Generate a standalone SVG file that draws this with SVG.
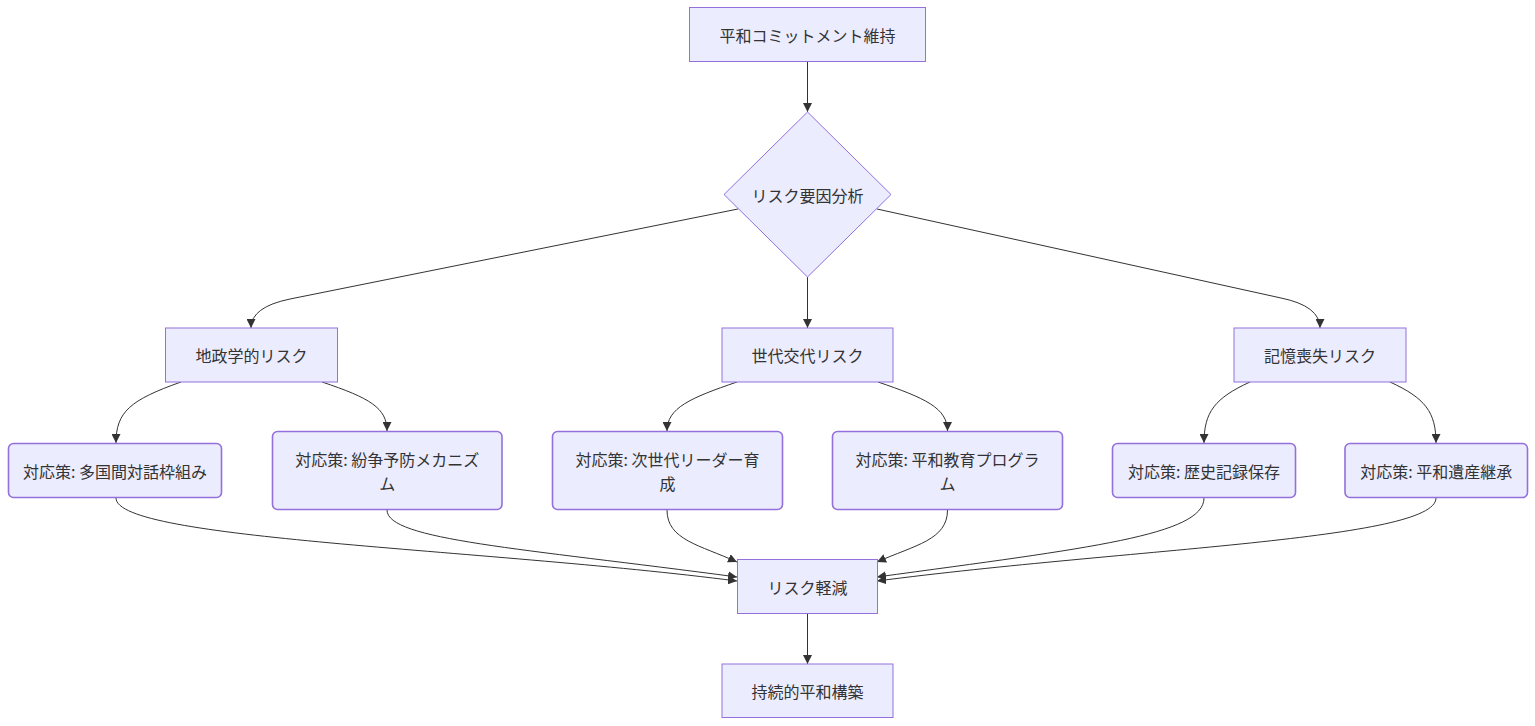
<svg xmlns="http://www.w3.org/2000/svg" width="1535" height="726" viewBox="0 0 1535 726">
<defs>
<marker id="arr" viewBox="0 0 10 10" refX="10" refY="5" markerWidth="9" markerHeight="9" markerUnits="userSpaceOnUse" orient="auto">
<path d="M0,0 L10,5 L0,10 z" fill="#333333"/>
</marker>
<style>
.n{fill:#ECECFF;stroke:#9370DB;stroke-width:1}
.r{fill:#ECECFF;stroke:#9370DB;stroke-width:1.6}
.t{font-family:"Noto Sans CJK JP","Noto Sans",sans-serif;font-size:16px;fill:#333333;text-anchor:middle;dominant-baseline:central}
.e{fill:none;stroke:#333333;stroke-width:1;marker-end:url(#arr)}
</style>
</defs>
<rect width="1535" height="726" fill="#ffffff"/>
<g id="edges">
<path class="e" d="M807.5,62 L807.5,112"/>
<path class="e" d="M738,209 L290,299 Q251,307 251,328"/>
<path class="e" d="M807.5,277 L807.5,328"/>
<path class="e" d="M877,209 L1281,298 Q1320,306 1320,328"/>
<path class="e" d="M181,382 C130,400 116,412 116,443"/>
<path class="e" d="M322,382 C370,398 387,408 387,431"/>
<path class="e" d="M737,382 C690,398 667,408 667,431"/>
<path class="e" d="M878,382 C925,398 947.5,408 947.5,431"/>
<path class="e" d="M1250,382 C1215,398 1204,412 1204,443"/>
<path class="e" d="M1390,382 C1425,398 1436,412 1436,443"/>
<path class="e" d="M116,498 C116,540 480,548 737,581"/>
<path class="e" d="M387,510 C387,540 520,548 737,577"/>
<path class="e" d="M667,510 C667,540 700,545 737,562"/>
<path class="e" d="M947.5,510 C947.5,540 915,545 877,562"/>
<path class="e" d="M1204,498 C1204,535 1090,548 877,577"/>
<path class="e" d="M1436,498 C1436,540 1130,548 877,581"/>
<path class="e" d="M807.5,613 L807.5,664"/>
</g>
<g id="n_top"><rect class="n" x="689.5" y="7.5" width="236" height="54"/><text class="t" x="807.5" y="35">平和コミットメント維持</text></g>
<g id="n_risk"><polygon class="n" points="807.5,112 891,194.5 807.5,277 724,194.5"/><text class="t" x="807.5" y="194.5">リスク要因分析</text></g>
<g id="n_geo"><rect class="n" x="165.5" y="328" width="172" height="54"/><text class="t" x="251.5" y="355">地政学的リスク</text></g>
<g id="n_gen"><rect class="n" x="722" y="328" width="171" height="54"/><text class="t" x="807.5" y="355">世代交代リスク</text></g>
<g id="n_mem"><rect class="n" x="1234" y="328" width="172" height="54"/><text class="t" x="1320" y="355">記憶喪失リスク</text></g>
<g id="n_a1"><rect class="r" x="8.5" y="443.5" width="213" height="54" rx="5"/><text class="t" x="115" y="470.5">対応策: 多国間対話枠組み</text></g>
<g id="n_a2"><rect class="r" x="272.5" y="431.5" width="229.5" height="78" rx="5"/><text class="t" x="387.3" y="459">対応策: 紛争予防メカニズ</text><text class="t" x="387.3" y="483">ム</text></g>
<g id="n_b1"><rect class="r" x="552.5" y="431.5" width="230" height="78" rx="5"/><text class="t" x="667.5" y="459">対応策: 次世代リーダー育</text><text class="t" x="667.5" y="483">成</text></g>
<g id="n_b2"><rect class="r" x="832.5" y="431.5" width="230" height="78" rx="5"/><text class="t" x="947.5" y="459">対応策: 平和教育プログラ</text><text class="t" x="947.5" y="483">ム</text></g>
<g id="n_c1"><rect class="r" x="1112.5" y="443.5" width="183" height="54" rx="5"/><text class="t" x="1204" y="470.5">対応策: 歴史記録保存</text></g>
<g id="n_c2"><rect class="r" x="1345" y="443.5" width="182.5" height="54" rx="5"/><text class="t" x="1436.2" y="470.5">対応策: 平和遺産継承</text></g>
<g id="n_mit"><rect class="n" x="737.5" y="559.5" width="140" height="54"/><text class="t" x="807.5" y="586.5">リスク軽減</text></g>
<g id="n_peace"><rect class="n" x="722" y="664" width="171" height="53.5"/><text class="t" x="807.5" y="690.5">持続的平和構築</text></g>
</svg>
